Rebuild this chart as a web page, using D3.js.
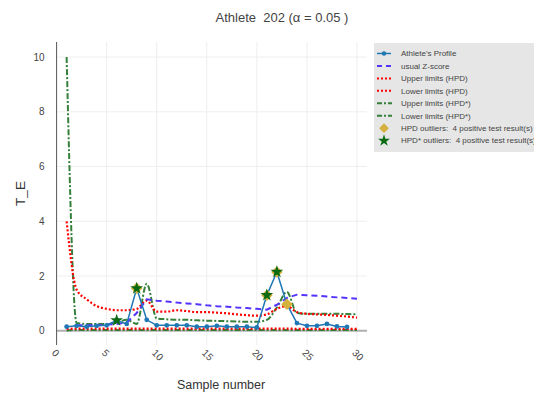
<!DOCTYPE html>
<html>
<head>
<meta charset="utf-8">
<script src="https://cdn.jsdelivr.net/npm/d3@7"></script>
<style>
  html, body { margin: 0; padding: 0; background: #fff; }
  svg { display: block; font-family: "Liberation Sans", Arial, sans-serif; }
</style>
</head>
<body>
<svg id="chart" width="534" height="395"></svg>
<script>
// Athlete 202 profile with HPD / HPD* limits

const samples    = d3.range(1, 31);              // 1..30
const profile    = [0.15, 0.18, 0.15, 0.18, 0.2, 0.38, 0.25, 1.55, 0.4, 0.2,
                    0.2, 0.2, 0.2, 0.15, 0.15, 0.18, 0.15, 0.15, 0.15, 0.12,
                    1.3, 2.15, 0.97, 0.28, 0.18, 0.18, 0.25, 0.16, 0.14];
const zScore     = [null, 0.2, 0.2, 0.2, 0.22, 0.25, 0.3, 0.65, 1.15, 1.1,
                    1.07, 1.03, 1.0, 0.97, 0.93, 0.9, 0.88, 0.85, 0.83, 0.8,
                    0.77, 0.95, 1.2, 1.32, 1.3, 1.28, 1.25, 1.22, 1.2, 1.17];
const upperHPD   = [4.0, 1.5, 1.15, 0.9, 0.8, 0.75, 0.75, 0.8, 1.1, 0.7,
                    0.7, 0.75, 0.72, 0.68, 0.68, 0.66, 0.64, 0.6, 0.57, 0.55,
                    0.6, 0.8, 0.9, 0.68, 0.62, 0.6, 0.58, 0.55, 0.52, 0.48];
const lowerHPD   = [0.06, 0.08, 0.08, 0.08, 0.08, 0.08, 0.08, 0.08, 0.08, 0.08,
                    0.08, 0.08, 0.08, 0.08, 0.08, 0.08, 0.08, 0.08, 0.08, 0.08,
                    0.08, 0.08, 0.08, 0.07, 0.07, 0.07, 0.07, 0.07, 0.07, 0.07];
const upperHPDs  = [10.0, 0.28, 0.25, 0.25, 0.25, 0.3, 0.4, 0.25, 1.72, 0.45,
                    0.42, 0.4, 0.4, 0.38, 0.37, 0.36, 0.35, 0.34, 0.33, 0.33,
                    0.4, 0.85, 1.42, 0.65, 0.62, 0.62, 0.62, 0.62, 0.61, 0.6];
const lowerHPDs  = [0.01, 0.03, 0.03, 0.03, 0.03, 0.03, 0.03, 0.03, 0.03, 0.03,
                    0.03, 0.03, 0.03, 0.03, 0.03, 0.03, 0.03, 0.03, 0.03, 0.03,
                    0.03, 0.03, 0.03, 0.03, 0.03, 0.03, 0.03, 0.03, 0.03, 0.03];
const hpdOutliers  = [8, 21, 22, 23];
const hpdsOutliers = [6, 8, 21, 22];
const xTicks = [0, 5, 10, 15, 20, 25, 30];
const yTicks = [0, 2, 4, 6, 8, 10];

const C = {
  left: 56.6, right: 367, top: 42, bottom: 345,
  blue: '#1f77b4', zcol: '#5533ff', red: '#ff0000', green: '#35803a',
  gold: '#d4b03c', star: '#0b6b12', grid: '#eeeeee', text: '#444'
};

const svg = d3.select('#chart');
const x = d3.scaleLinear().domain([0, 31]).range([C.left, C.right]);
const y = d3.scaleLinear().domain([-0.52, 10.55]).range([C.bottom, C.top]);

const toPts = arr => arr.map((v, i) => ({x: samples[i], y: v})).filter(d => d.y != null);

// ---------- grid ----------
const grid = svg.append('g');
grid.selectAll('line.gx').data(xTicks.slice(1)).enter().append('line')
    .attr('x1', d => x(d)).attr('x2', d => x(d))
    .attr('y1', C.top).attr('y2', C.bottom)
    .attr('stroke', C.grid).attr('stroke-width', 1);
grid.selectAll('line.gy').data(yTicks.slice(1)).enter().append('line')
    .attr('x1', C.left).attr('x2', C.right)
    .attr('y1', d => y(d)).attr('y2', d => y(d))
    .attr('stroke', C.grid).attr('stroke-width', 1);

// zero line
svg.append('line')
    .attr('x1', C.left).attr('x2', C.right)
    .attr('y1', y(0)).attr('y2', y(0))
    .attr('stroke', '#b0b0b0').attr('stroke-width', 2);

// y axis line
svg.append('line')
    .attr('x1', C.left).attr('x2', C.left)
    .attr('y1', C.top).attr('y2', C.bottom)
    .attr('stroke', '#555').attr('stroke-width', 1);

// tick labels
svg.selectAll('text.yt').data(yTicks).enter().append('text')
    .attr('x', C.left - 12).attr('y', d => y(d)).attr('dy', '0.35em')
    .attr('text-anchor', 'end').attr('font-size', 10).attr('fill', C.text)
    .text(d => d);
svg.selectAll('text.xt').data(xTicks).enter().append('text')
    .attr('transform', d => `translate(${x(d) - 3},${351}) rotate(45)`)
    .attr('dy', '0.35em')
    .attr('text-anchor', 'start').attr('font-size', 10).attr('fill', C.text)
    .text(d => d);

// ---------- series ----------
const plot = svg.append('g');
svg.append('clipPath').attr('id', 'clip').append('rect')
    .attr('x', C.left).attr('y', C.top)
    .attr('width', C.right - C.left).attr('height', C.bottom - C.top);
plot.attr('clip-path', 'url(#clip)');

const lineLin = d3.line().x(d => x(d.x)).y(d => y(d.y));
const lineSmooth = d3.line().x(d => x(d.x)).y(d => y(d.y)).curve(d3.curveMonotoneX);

const series = [
  {data: lowerHPDs, color: C.green, dash: '6,2,2,2', w: 2,   gen: lineSmooth},
  {data: lowerHPD,  color: C.red,   dash: '2,2',     w: 2.2, gen: lineSmooth},
  {data: upperHPDs, color: C.green, dash: '6,2,2,2', w: 2,   gen: lineSmooth},
  {data: upperHPD,  color: C.red,   dash: '2,2',     w: 2.2, gen: lineSmooth},
  {data: zScore,    color: C.zcol,  dash: '6,4',     w: 2,   gen: lineLin}
];
series.forEach(s => {
  plot.append('path')
      .attr('d', s.gen(toPts(s.data)))
      .attr('fill', 'none')
      .attr('stroke', s.color)
      .attr('stroke-width', s.w)
      .attr('stroke-dasharray', s.dash);
});

const prof = toPts(profile);
plot.append('path')
    .attr('d', lineLin(prof))
    .attr('fill', 'none').attr('stroke', C.blue).attr('stroke-width', 1.5);
plot.selectAll('circle.p').data(prof).enter().append('circle')
    .attr('cx', d => x(d.x)).attr('cy', d => y(d.y)).attr('r', 2.4)
    .attr('fill', C.blue);

const diamond = d3.symbol().type(d3.symbolDiamond2).size(85);
const star = d3.symbol().type(d3.symbolStar).size(50);

plot.selectAll('path.dia').data(hpdOutliers).enter().append('path')
    .attr('d', diamond)
    .attr('transform', d => `translate(${x(d)},${y(profile[d - 1])})`)
    .attr('fill', C.gold);
plot.selectAll('path.star').data(hpdsOutliers).enter().append('path')
    .attr('d', star)
    .attr('transform', d => `translate(${x(d)},${y(profile[d - 1])})`)
    .attr('fill', C.star);

// ---------- titles ----------
svg.append('text')
    .attr('x', 282).attr('y', 22)
    .attr('text-anchor', 'middle').attr('font-size', 13).attr('fill', C.text)
    .style('white-space', 'pre')
    .text('Athlete  202 (α = 0.05 )');
svg.append('text')
    .attr('x', 221).attr('y', 389)
    .attr('text-anchor', 'middle').attr('font-size', 12.5).attr('fill', '#333')
    .text('Sample number');
svg.append('text')
    .attr('transform', `translate(25,${(C.top + C.bottom) / 2}) rotate(-90)`)
    .attr('text-anchor', 'middle').attr('font-size', 13.5).attr('fill', '#333')
    .text('T_E');

// ---------- legend ----------
const legendItems = [
  {name: "Athlete's Profile", kind: 'profile'},
  {name: 'usual Z-score', kind: 'line', color: C.zcol, dash: '5,4', w: 2},
  {name: 'Upper limits (HPD)', kind: 'line', color: C.red, dash: '2,2', w: 2},
  {name: 'Lower limits (HPD)', kind: 'line', color: C.red, dash: '2,2', w: 2},
  {name: 'Upper limits (HPD*)', kind: 'line', color: C.green, dash: '5,2,2,2', w: 2},
  {name: 'Lower limits (HPD*)', kind: 'line', color: C.green, dash: '5,2,2,2', w: 2},
  {name: 'HPD outliers:  4 positive test result(s)', kind: 'diamond'},
  {name: 'HPD* outliers:  4 positive test result(s)', kind: 'star'}
];
const lg = svg.append('g');
lg.append('rect')
    .attr('x', 374).attr('y', 43).attr('width', 170).attr('height', 109)
    .attr('fill', '#e6e6e6');
const row = lg.selectAll('g.item').data(legendItems).enter().append('g')
    .attr('transform', (d, i) => `translate(0,${53.5 + i * 12.45})`);
row.each(function(d) {
  const g = d3.select(this);
  if (d.kind === 'profile') {
    g.append('line').attr('x1', 377).attr('x2', 391).attr('y1', 0).attr('y2', 0)
        .attr('stroke', C.blue).attr('stroke-width', 1.5);
    g.append('circle').attr('cx', 384).attr('cy', 0).attr('r', 2.2).attr('fill', C.blue);
  } else if (d.kind === 'line') {
    g.append('line').attr('x1', 377).attr('x2', 392).attr('y1', 0).attr('y2', 0)
        .attr('stroke', d.color).attr('stroke-width', d.w)
        .attr('stroke-dasharray', d.dash);
  } else if (d.kind === 'diamond') {
    g.append('path').attr('d', d3.symbol().type(d3.symbolDiamond2).size(60))
        .attr('transform', 'translate(384,0)').attr('fill', C.gold);
  } else {
    g.append('path').attr('d', d3.symbol().type(d3.symbolStar).size(45))
        .attr('transform', 'translate(384,0)').attr('fill', C.star);
  }
  g.append('text').attr('x', 401).attr('y', 0).attr('dy', '0.35em')
      .attr('font-size', 8).attr('fill', C.text)
      .style('white-space', 'pre')
      .text(d.name);
});
</script>
</body>
</html>
